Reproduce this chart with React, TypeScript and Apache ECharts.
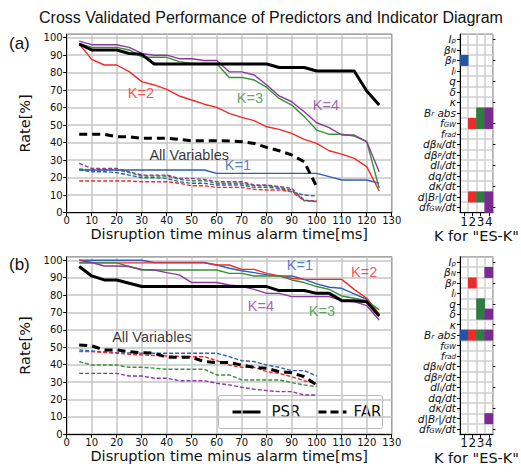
import React, { useEffect, useRef } from 'react';
import * as echarts from 'echarts';

// ---------- data ----------
const psrTimes = [5, 10, 15, 20, 25, 30, 35, 40, 45, 50, 55, 60, 65, 70, 75, 80, 85, 90, 95, 100, 105, 110, 115, 120, 125];
const farTimes = [5, 10, 15, 20, 25, 30, 35, 40, 45, 50, 55, 60, 65, 70, 75, 80, 85, 90, 95, 100];

// panel (a)
const psrA_all = [96.4, 93, 93, 93, 91, 90.5, 85, 85, 85, 85, 85, 85, 85, 85, 85, 85, 83, 83, 83, 81, 81, 81, 81, 69.5, 61.5];
const psrA_k1 = [24.4, 24.4, 24.4, 24.4, 24.4, 24.4, 24.4, 24.4, 24.4, 24.4, 24.4, 22.5, 22.5, 22.5, 22.5, 22.5, 22.5, 22.5, 22.5, 22.5, 20.6, 18.7, 18.7, 18.7, 16.8];
const psrA_k2 = [96.4, 87.6, 84.4, 84.4, 80.6, 74.9, 73, 70.5, 66.7, 64.4, 62, 60.2, 56.8, 54.5, 52.6, 49.1, 47.6, 45.3, 41.9, 39.6, 35.4, 33.5, 31, 26.3, 12.4];
const psrA_k3 = [96.8, 94.5, 94.5, 94.5, 93, 89, 88.8, 88.8, 86.3, 85.3, 85.3, 85.3, 77.3, 77.3, 75.8, 71.6, 65.3, 61.5, 54.9, 47.2, 44.8, 44.8, 43.8, 40.6, 14];
const psrA_k4 = [98, 96, 96, 96, 94.5, 91, 90, 90, 88, 88, 87, 87, 80.5, 80.5, 78.7, 73, 66.7, 63.4, 57.7, 51.4, 48.6, 44.4, 44.4, 40.6, 23.4];
const farA_all = [44.8, 44.8, 44.8, 43.4, 43.4, 42.5, 42.5, 42.5, 41.9, 41.1, 41.1, 41.1, 41, 40.6, 39.6, 37.3, 35.4, 33, 29.1, 14.8];
const farA_k1 = [24.4, 23.4, 23.4, 22.9, 21.5, 20, 20, 19.6, 17.7, 16.8, 16.8, 15.8, 15.8, 15.8, 14.5, 14.5, 13.9, 12, 10.1, 9.5];
const farA_k2 = [18.1, 18.1, 18.1, 18.1, 18.1, 17.7, 17.7, 17.7, 16.8, 15.4, 15.4, 14.5, 14.5, 14.5, 13.3, 13, 13, 12, 6.9, 6.9];
const farA_k3 = [25, 24.4, 24.4, 24.4, 22.9, 21, 21, 21, 19, 18.3, 18.3, 16.8, 16.8, 16.8, 15.4, 15.4, 14.5, 13, 6.9, 6.3];
const farA_k4 = [28.2, 25.3, 25.3, 25.3, 23.4, 21.5, 21.5, 21.5, 19.6, 19.6, 19, 17.7, 17.7, 17.7, 15.8, 15.8, 14.9, 13.9, 7.2, 6.3];

// panel (b)
const psrB_all = [96.4, 91, 88.7, 88.7, 86.8, 84.9, 84.9, 84.9, 84.9, 84.9, 84.9, 84.9, 84.9, 84.9, 84.9, 84.9, 82.6, 82.6, 82.6, 81, 81, 76.8, 76.8, 76.2, 68];
const psrB_k1 = [100, 100, 100, 100, 100, 100, 98.7, 98.7, 98.7, 98.7, 98.7, 97.3, 95.4, 94, 92.9, 91.6, 91, 91, 89, 86.4, 84.5, 83.9, 80.7, 77.6, 68.6];
const psrB_k2 = [98.5, 98.5, 98.5, 98.5, 98.5, 98.5, 98.5, 98.5, 98.5, 98.5, 98.5, 97.3, 97.3, 94.8, 94.8, 92.5, 91, 89.7, 89, 89, 89, 89, 83.3, 78.2, 69.2];
const psrB_k3 = [98.5, 98.5, 98.5, 98.5, 96.4, 94.4, 94.4, 94.4, 94.4, 94.4, 94.4, 94.4, 92.5, 92.5, 91, 91, 91, 88.7, 87.2, 84.9, 83.3, 79.5, 78.2, 76.8, 71.5];
const psrB_k4 = [100, 98.7, 96.7, 96.7, 96.4, 94.8, 94.4, 92.9, 91.6, 87.2, 87.2, 87.2, 85.8, 84.9, 83.3, 81, 81, 79.1, 79.1, 79.1, 79.1, 76.8, 76.2, 73.9, 65.7];
const farB_all = [51.3, 50.8, 48.5, 48.5, 47.5, 46.9, 46.6, 44.3, 44.3, 44.3, 41.8, 41.2, 41.2, 39.8, 38.5, 37.9, 36, 35.4, 33.1, 28.4];
const farB_k1 = [48.5, 47.9, 47.4, 46.9, 46.7, 46.6, 46.6, 46.6, 46.6, 46.6, 46.6, 46.6, 44.6, 42.3, 41.8, 39.8, 38.5, 36.6, 36.6, 33.5];
const farB_k2 = [47.5, 47.5, 47, 46.6, 46, 45.6, 45.3, 45, 44.8, 44.6, 44.6, 42.3, 39.8, 38.5, 38.5, 36, 35, 33.1, 30.8, 28.9];
const farB_k3 = [41.8, 39.8, 39.8, 39.8, 38.5, 38.5, 38, 37.4, 37.4, 37.4, 37.4, 34.1, 34.1, 31.2, 31.2, 31.2, 31.2, 29.7, 28.4, 27.4];
const farB_k4 = [35, 35, 35, 35, 33.5, 33.5, 32.2, 32.2, 30.8, 30.8, 30.8, 29.3, 28.4, 27, 25.9, 25.1, 24.5, 24.5, 22.6, 22.6];

// indicator diagram
const variableKeys = ['Ip', 'betaN', 'betaP', 'li', 'q', 'delta', 'kappa', 'Br abs', 'fGW', 'frad',
  'dbetaN/dt', 'dbetaP/dt', 'dli/dt', 'dq/dt', 'dkappa/dt', 'd|Br|/dt', 'dfGW/dt'];
const variableLabels = [
  '{i|I}{s|p}', '{i|β}{s|N}', '{i|β}{s|P}', '{i|l}{s|i}', '{i|q}', '{i|δ}', '{i|κ}',
  '{i|B}{s|r}{i| abs}', '{i|f}{s|GW}', '{i|f}{s|rad}', '{i|dβ}{s|N}{i|/dt}', '{i|dβ}{s|P}{i|/dt}',
  '{i|dl}{s|i}{i|/dt}', '{i|dq/dt}', '{i|dκ/dt}', '{i|d|B}{s|r}{i||/dt}', '{i|df}{s|GW}{i|/dt}',
];
const kLabels = ['1', '2', '3', '4'];
const selectedA = [['betaP'], ['fGW', 'd|Br|/dt'], ['Br abs', 'fGW', 'd|Br|/dt'], ['Br abs', 'fGW', 'd|Br|/dt', 'dfGW/dt']];
const selectedB = [['Br abs'], ['betaP', 'Br abs'], ['q', 'delta', 'Br abs'], ['betaN', 'delta', 'Br abs', 'd|Br|/dt']];

// annotations [x, y]
const annotA = [
  { text: 'K=2', x: 29.7, y: 68.4, k: 1 },
  { text: 'K=3', x: 73.3, y: 65.5, k: 2 },
  { text: 'K=4', x: 103.7, y: 61.5, k: 3 },
  { text: 'All Variables', x: 49, y: 33, k: -1 },
  { text: 'K=1', x: 68.5, y: 27.3, k: 0 },
];
const annotB = [
  { text: 'All Variables', x: 34.1, y: 55.9, k: -1 },
  { text: 'K=1', x: 93.3, y: 97.3, k: 0 },
  { text: 'K=2', x: 119, y: 93.3, k: 1 },
  { text: 'K=4', x: 77.7, y: 74, k: 3 },
  { text: 'K=3', x: 102.1, y: 71, k: 2 },
];

const lineColors = ['#2d5fb8', '#f02a2a', '#379038', '#8b3a9c'];
const cellColors = ['#2354a6', '#ec2b2b', '#2f7c42', '#7b2a8f'];

const SANS = 'DejaVu Sans';
const ARIAL = 'Liberation Sans';

function pairs(xs: number[], ys: number[]) {
  return xs.map((x, i) => [x, ys[i]]);
}

function lineSeries(grid: number, xs: number[], ys: number[], color: string, width: number, dashed: boolean, dash?: number[]) {
  return {
    type: 'line',
    xAxisIndex: grid,
    yAxisIndex: grid,
    data: pairs(xs, ys),
    symbol: 'none',
    silent: true,
    lineStyle: { color, width, type: dashed ? (dash || [4, 2]) : 'solid', cap: 'butt', join: 'round' },
  };
}

function buildOption() {
  const grids = [
    { left: 66.7, top: 34.2, width: 325, height: 178.5 },
    { left: 66.7, top: 256.8, width: 325, height: 177.5 },
    { left: 460, top: 34.2, width: 40, height: 178.5 },
    { left: 460, top: 256.8, width: 40, height: 177.5 },
  ].map((g) => ({ ...g, show: true, borderColor: '#000', borderWidth: 1, backgroundColor: 'transparent' }));

  const valueX = (gi: number) => ({
    type: 'value', gridIndex: gi, min: 0, max: 130, interval: 10,
    name: 'Disruption time minus alarm time[ms]', nameLocation: 'middle', nameGap: 14,
    nameTextStyle: { fontFamily: SANS, fontSize: 14.5, color: '#111', verticalAlign: 'top' },
    axisLine: { show: true, lineStyle: { color: '#000', width: 1 } },
    axisTick: { show: true, inside: false, length: 3.5, lineStyle: { color: '#000' } },
    axisLabel: { fontFamily: SANS, fontSize: 10, color: '#111', margin: 3 },
    splitLine: { show: true, lineStyle: { color: '#c6c6c6', width: 1.5 } },
  });
  const valueY = (gi: number) => ({
    type: 'value', gridIndex: gi, min: 0, max: 102, interval: 10,
    name: 'Rate[%]', nameLocation: 'middle', nameGap: 26,
    nameTextStyle: { fontFamily: SANS, fontSize: 14.5, color: '#111' },
    axisLine: { show: true, lineStyle: { color: '#000', width: 1 } },
    axisTick: { show: true, inside: false, length: 3.5, lineStyle: { color: '#000' } },
    axisLabel: { fontFamily: SANS, fontSize: 10, color: '#111', margin: 4, showMaxLabel: false },
    splitLine: { show: true, lineStyle: { color: '#c6c6c6', width: 1.5 } },
  });
  const catX = (gi: number) => ({
    type: 'category', gridIndex: gi, data: kLabels,
    name: 'K for "ES-K"', nameLocation: 'middle', nameGap: 15,
    nameTextStyle: { fontFamily: SANS, fontSize: 14.5, color: '#111', verticalAlign: 'top' },
    axisLine: { show: true, lineStyle: { color: '#000' } },
    axisTick: { show: true, alignWithLabel: true, length: 3.5, lineStyle: { color: '#000' } },
    axisLabel: { fontFamily: SANS, fontSize: 12, color: '#111', margin: 3, interval: 0 },
    splitLine: { show: true, interval: 0, lineStyle: { color: '#cfcfcf', width: 1.5 } },
  });
  const catY = (gi: number) => ({
    type: 'category', gridIndex: gi, data: variableKeys, inverse: true,
    axisLine: { show: true, lineStyle: { color: '#000' } },
    axisTick: { show: true, alignWithLabel: true, length: 3, lineStyle: { color: '#000' } },
    axisLabel: {
      interval: 0, margin: 4, color: '#111',
      formatter: (v: string) => variableLabels[variableKeys.indexOf(v)],
      rich: {
        i: { fontFamily: SANS, fontStyle: 'italic', fontSize: 10.5, lineHeight: 10, color: '#111' },
        s: { fontFamily: SANS, fontStyle: 'italic', fontSize: 7, lineHeight: 5, verticalAlign: 'bottom', color: '#111' },
      },
    },
    splitLine: { show: true, interval: 0, lineStyle: { color: '#cfcfcf', width: 1.5 } },
  });
  const catYRight = (gi: number) => ({
    type: 'category', gridIndex: gi, data: variableKeys, inverse: true, position: 'right',
    axisLine: { show: false },
    axisTick: { show: true, alignWithLabel: true, length: 2.5, lineStyle: { color: '#000' } },
    axisLabel: { show: false },
    splitLine: { show: false },
  });

  const series: any[] = [];
  const addPanel = (gi: number, psr: number[][], far: number[][], psrAll: number[], farAll: number[]) => {
    far.forEach((ys, k) => series.push(lineSeries(gi, farTimes, ys, lineColors[k], 1.4, true, [4, 2])));
    psr.forEach((ys, k) => series.push(lineSeries(gi, psrTimes, ys, lineColors[k], 1.4, false)));
    series.push(lineSeries(gi, farTimes, farAll, '#000', 3, true, [8, 5]));
    series.push(lineSeries(gi, psrTimes, psrAll, '#000', 3, false));
  };
  addPanel(0, [psrA_k1, psrA_k2, psrA_k3, psrA_k4], [farA_k1, farA_k2, farA_k3, farA_k4], psrA_all, farA_all);
  addPanel(1, [psrB_k1, psrB_k2, psrB_k3, psrB_k4], [farB_k1, farB_k2, farB_k3, farB_k4], psrB_all, farB_all);

  const addAnnot = (gi: number, annots: typeof annotA) => {
    series.push({
      type: 'scatter', xAxisIndex: gi, yAxisIndex: gi, symbolSize: 0, silent: true, z: 10,
      data: annots.map((a) => ({
        value: [a.x, a.y],
        label: {
          show: true, position: 'inside', formatter: a.text,
          fontFamily: ARIAL, fontSize: 14.5, color: a.k < 0 ? '#000' : lineColors[a.k],
        },
      })),
    });
  };
  addAnnot(0, annotA);
  addAnnot(1, annotB);

  const heatIdx: number[] = [];
  const addHeat = (gi: number, selected: string[][]) => {
    const data: number[][] = [];
    selected.forEach((keys, k) => keys.forEach((key) => data.push([k, variableKeys.indexOf(key), k + 1])));
    heatIdx.push(series.length);
    series.push({ type: 'heatmap', xAxisIndex: gi, yAxisIndex: gi, silent: true, data });
  };
  addHeat(2, selectedA);
  addHeat(3, selectedB);

  return {
    animation: false,
    backgroundColor: '#fff',
    title: {
      text: 'Cross Validated Performance of Predictors and Indicator Diagram',
      left: 34, top: 4,
      textStyle: { fontFamily: ARIAL, fontSize: 16, fontWeight: 'normal', color: '#111' },
    },
    visualMap: {
      type: 'piecewise', show: false, seriesIndex: heatIdx, dimension: 2,
      pieces: cellColors.map((c, k) => ({ value: k + 1, color: c })),
    },
    grid: grids,
    xAxis: [valueX(0), valueX(1), catX(2), catX(3)],
    yAxis: [valueY(0), valueY(1), catY(2), catY(3), catYRight(2), catYRight(3)],
    series,
    graphic: [
      { type: 'text', left: 9, top: 35, style: { text: '(a)', fontFamily: ARIAL, fontSize: 17, fill: '#111' } },
      { type: 'text', left: 9, top: 256, style: { text: '(b)', fontFamily: ARIAL, fontSize: 17, fill: '#111' } },
      {
        type: 'group', left: 218, top: 395, children: [
          { type: 'rect', shape: { x: 0, y: 0, width: 164, height: 33, r: 2 }, style: { fill: '#fff', stroke: '#b8b8b8', lineWidth: 1 } },
          { type: 'line', shape: { x1: 14, y1: 16.5, x2: 42, y2: 16.5 }, style: { stroke: '#000', lineWidth: 3 } },
          { type: 'text', x: 53, y: 16.5, style: { text: 'PSR', fontFamily: SANS, fontSize: 15, fill: '#111', verticalAlign: 'middle' } },
          { type: 'line', shape: { x1: 100, y1: 16.5, x2: 128, y2: 16.5 }, style: { stroke: '#000', lineWidth: 3, lineDash: [8, 4] } },
          { type: 'text', x: 135, y: 16.5, style: { text: 'FAR', fontFamily: SANS, fontSize: 15, fill: '#111', verticalAlign: 'middle' } },
        ],
      },
    ],
  };
}

export default function App() {
  const ref = useRef<HTMLDivElement>(null);
  useEffect(() => {
    const chart = echarts.init(ref.current!, null, { renderer: 'svg' });
    chart.setOption(buildOption() as any);
    return () => chart.dispose();
  }, []);
  return <div ref={ref} style={{ position: 'fixed', left: 0, top: 0, width: 521, height: 472, background: '#fff' }} />;
}
